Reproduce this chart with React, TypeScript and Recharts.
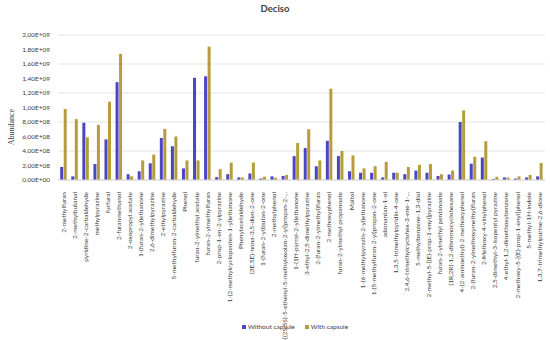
import { BarChart, Bar, XAxis, YAxis, CartesianGrid } from "recharts";

const BLUE = "#4a46c2";
const GOLD = "#b59c3c";

const compounds = [
  "2-methylfuran",
  "2-methylbutanal",
  "pyridine-2-carbaldehyde",
  "methylpyrazine",
  "furfural",
  "2-furanmethanol",
  "2-oxopropyl acetate",
  "1-(furan-2-yl)ethanone",
  "2,6-dimethylpyrazine",
  "2-ethylpyrazine",
  "5-methylfuran-2-carbaldehyde",
  "Phenol",
  "furan-2-ylmethyl acetate",
  "furan-2-ylmethylfuran",
  "2-prop-1-en-2-ylpyrazine",
  "1-(2-methylcyclopenten-1-yl)ethanone",
  "Phenylacetaldehyde",
  "(3E,5E)-nona-3,5-dien-2-one",
  "1-(furan-2-yl)butan-2-one",
  "2-methylphenol",
  "2-[(2S,5S)-5-ethenyl-5-methyloxolan-2-yl]propan-2-...",
  "1-(1H-pyrrol-2-yl)ethanone",
  "3-ethyl-2,5-dimethylpyrazine",
  "2-(furan-2-ylmethyl)furan",
  "2-methoxyphenol",
  "furan-2-ylmethyl propanoate",
  "Maltol",
  "1-(6-methylpyrazin-2-yl)ethanone",
  "1-(5-methylfuran-2-yl)propan-2-one",
  "adamantan-1-ol",
  "1,3,5-trimethylpyridin-4-one",
  "2,4,6-trimethylcyclohex-3-ene-1-...",
  "5-methylbenzene-1,3-diol",
  "2-methyl-5-[(E)-prop-1-enyl]pyrazine",
  "furan-2-ylmethyl pentanoate",
  "(1R,2R)-1,2-dibromocyclohexane",
  "4-(2-aminoethyl)-2-methoxyphenol",
  "2-(furan-2-ylmethoxymethyl)furan",
  "2-Methoxy-4-vinylphenol",
  "2,5-dimethyl-3-isopentyl pyrazine",
  "4-ethyl-1,2-dimethoxybenzene",
  "2-methoxy-5-[(E)-prop-1-enyl]phenol",
  "5-methyl-1H-indole",
  "1,3,7-trimethylpurine-2,6-dione",
];

// abundance, units of 1e8
const withoutCapsule = [
  1.8, 0.5, 7.9, 2.2, 5.6, 13.5, 0.8, 1.2, 2.3, 5.8, 4.65, 1.6, 14.1, 14.3,
  0.4, 0.8, 0.35, 0.9, 0.2, 0.5, 0.55, 3.3, 4.4, 1.9, 5.4, 3.3, 1.2, 1.0, 1.0,
  0.35, 1.0, 0.8, 1.3, 1.0, 0.55, 0.75, 8.0, 2.25, 3.1, 0.15, 0.35, 0.2, 0.35,
  0.5,
];
const withCapsule = [
  9.8, 8.4, 5.9, 7.6, 10.8, 17.4, 0.5, 2.7, 3.5, 7.05, 6.0, 2.7, 2.7, 18.4,
  1.5, 2.4, 0.35, 2.4, 0.45, 0.3, 0.7, 5.1, 7.0, 2.7, 12.6, 4.0, 3.4, 1.6, 1.9,
  2.5, 1.0, 1.8, 2.1, 2.2, 0.8, 1.3, 9.6, 3.2, 5.35, 0.45, 0.35, 0.5, 0.7,
  2.35,
];
const yTicks = [0, 2e8, 4e8, 6e8, 8e8, 1e9, 1.2e9, 1.4e9, 1.6e9, 1.8e9, 2e9];

const data = compounds.map((name, i) => ({
  name,
  without: withoutCapsule[i] * 1e8,
  with: withCapsule[i] * 1e8,
}));

const FONT = "Lato, 'Liberation Sans', sans-serif";

function sci(v: number) {
  if (v === 0) return "0,00E+00";
  const exp = Math.floor(Math.log10(v) + 1e-9);
  const m = (v / Math.pow(10, exp)).toFixed(2).replace(".", ",");
  return `${m}E+${String(exp).padStart(2, "0")}`;
}

const NameTick = (props: any) => {
  const { x, y, payload } = props;
  return (
    <g transform={`translate(${x},${y + 4})`}>
      <text
        transform="rotate(-90)"
        textAnchor="end"
        dy={2.2}
        fontSize={6.5}
        fontFamily={FONT}
        fill="#404040"
      >
        {payload.value}
      </text>
    </g>
  );
};

export default function App() {
  return (
    <div
      style={{
        position: "absolute",
        left: 0,
        top: 0,
        width: 550,
        height: 340,
        background: "#fff",
        fontFamily: FONT,
      }}
    >
      <div
        style={{
          position: "absolute",
          top: 3,
          left: 0,
          width: 550,
          textAlign: "center",
          fontSize: 9.5,
          fontWeight: 700,
          color: "#404040",
        }}
      >
        Deciso
      </div>
      <BarChart
        width={550}
        height={340}
        data={data}
        margin={{ top: 35, right: 5, left: 0, bottom: 25 }}
        barGap={0.5}
        barCategoryGap="20%"
      >
        <CartesianGrid vertical={false} stroke="#e3e3e3" />
        <XAxis
          dataKey="name"
          interval={0}
          height={135}
          tick={<NameTick />}
          tickLine={false}
          axisLine={{ stroke: "#d9d9d9" }}
        />
        <YAxis
          width={58}
          domain={[0, 2e9]}
          ticks={yTicks}
          tickFormatter={sci}
          tick={{ fontSize: 6.5, fill: "#404040", fontFamily: FONT }}
          tickLine={false}
          axisLine={false}
          label={{
            content: () => (
              <text
                transform="translate(14,127) rotate(-90)"
                textAnchor="middle"
                fontSize={8}
                fontFamily="'Liberation Serif', serif"
                fill="#404040"
              >
                Abundance
              </text>
            ),
          }}
        />
        <Bar dataKey="without" fill={BLUE} isAnimationActive={false} />
        <Bar dataKey="with" fill={GOLD} isAnimationActive={false} />
      </BarChart>
      <div
        style={{
          position: "absolute",
          top: 323,
          left: 0,
          width: 550,
          display: "flex",
          justifyContent: "center",
          gap: 10,
          fontSize: 6.5,
          color: "#404040",
          lineHeight: "7px",
        }}
      >
        <span style={{ marginLeft: 40 }}>
          <span
            style={{
              display: "inline-block",
              width: 4,
              height: 4,
              background: BLUE,
              marginRight: 2,
            }}
          />
          Without capsule
        </span>
        <span>
          <span
            style={{
              display: "inline-block",
              width: 4,
              height: 4,
              background: GOLD,
              marginRight: 2,
            }}
          />
          With capsule
        </span>
      </div>
    </div>
  );
}
